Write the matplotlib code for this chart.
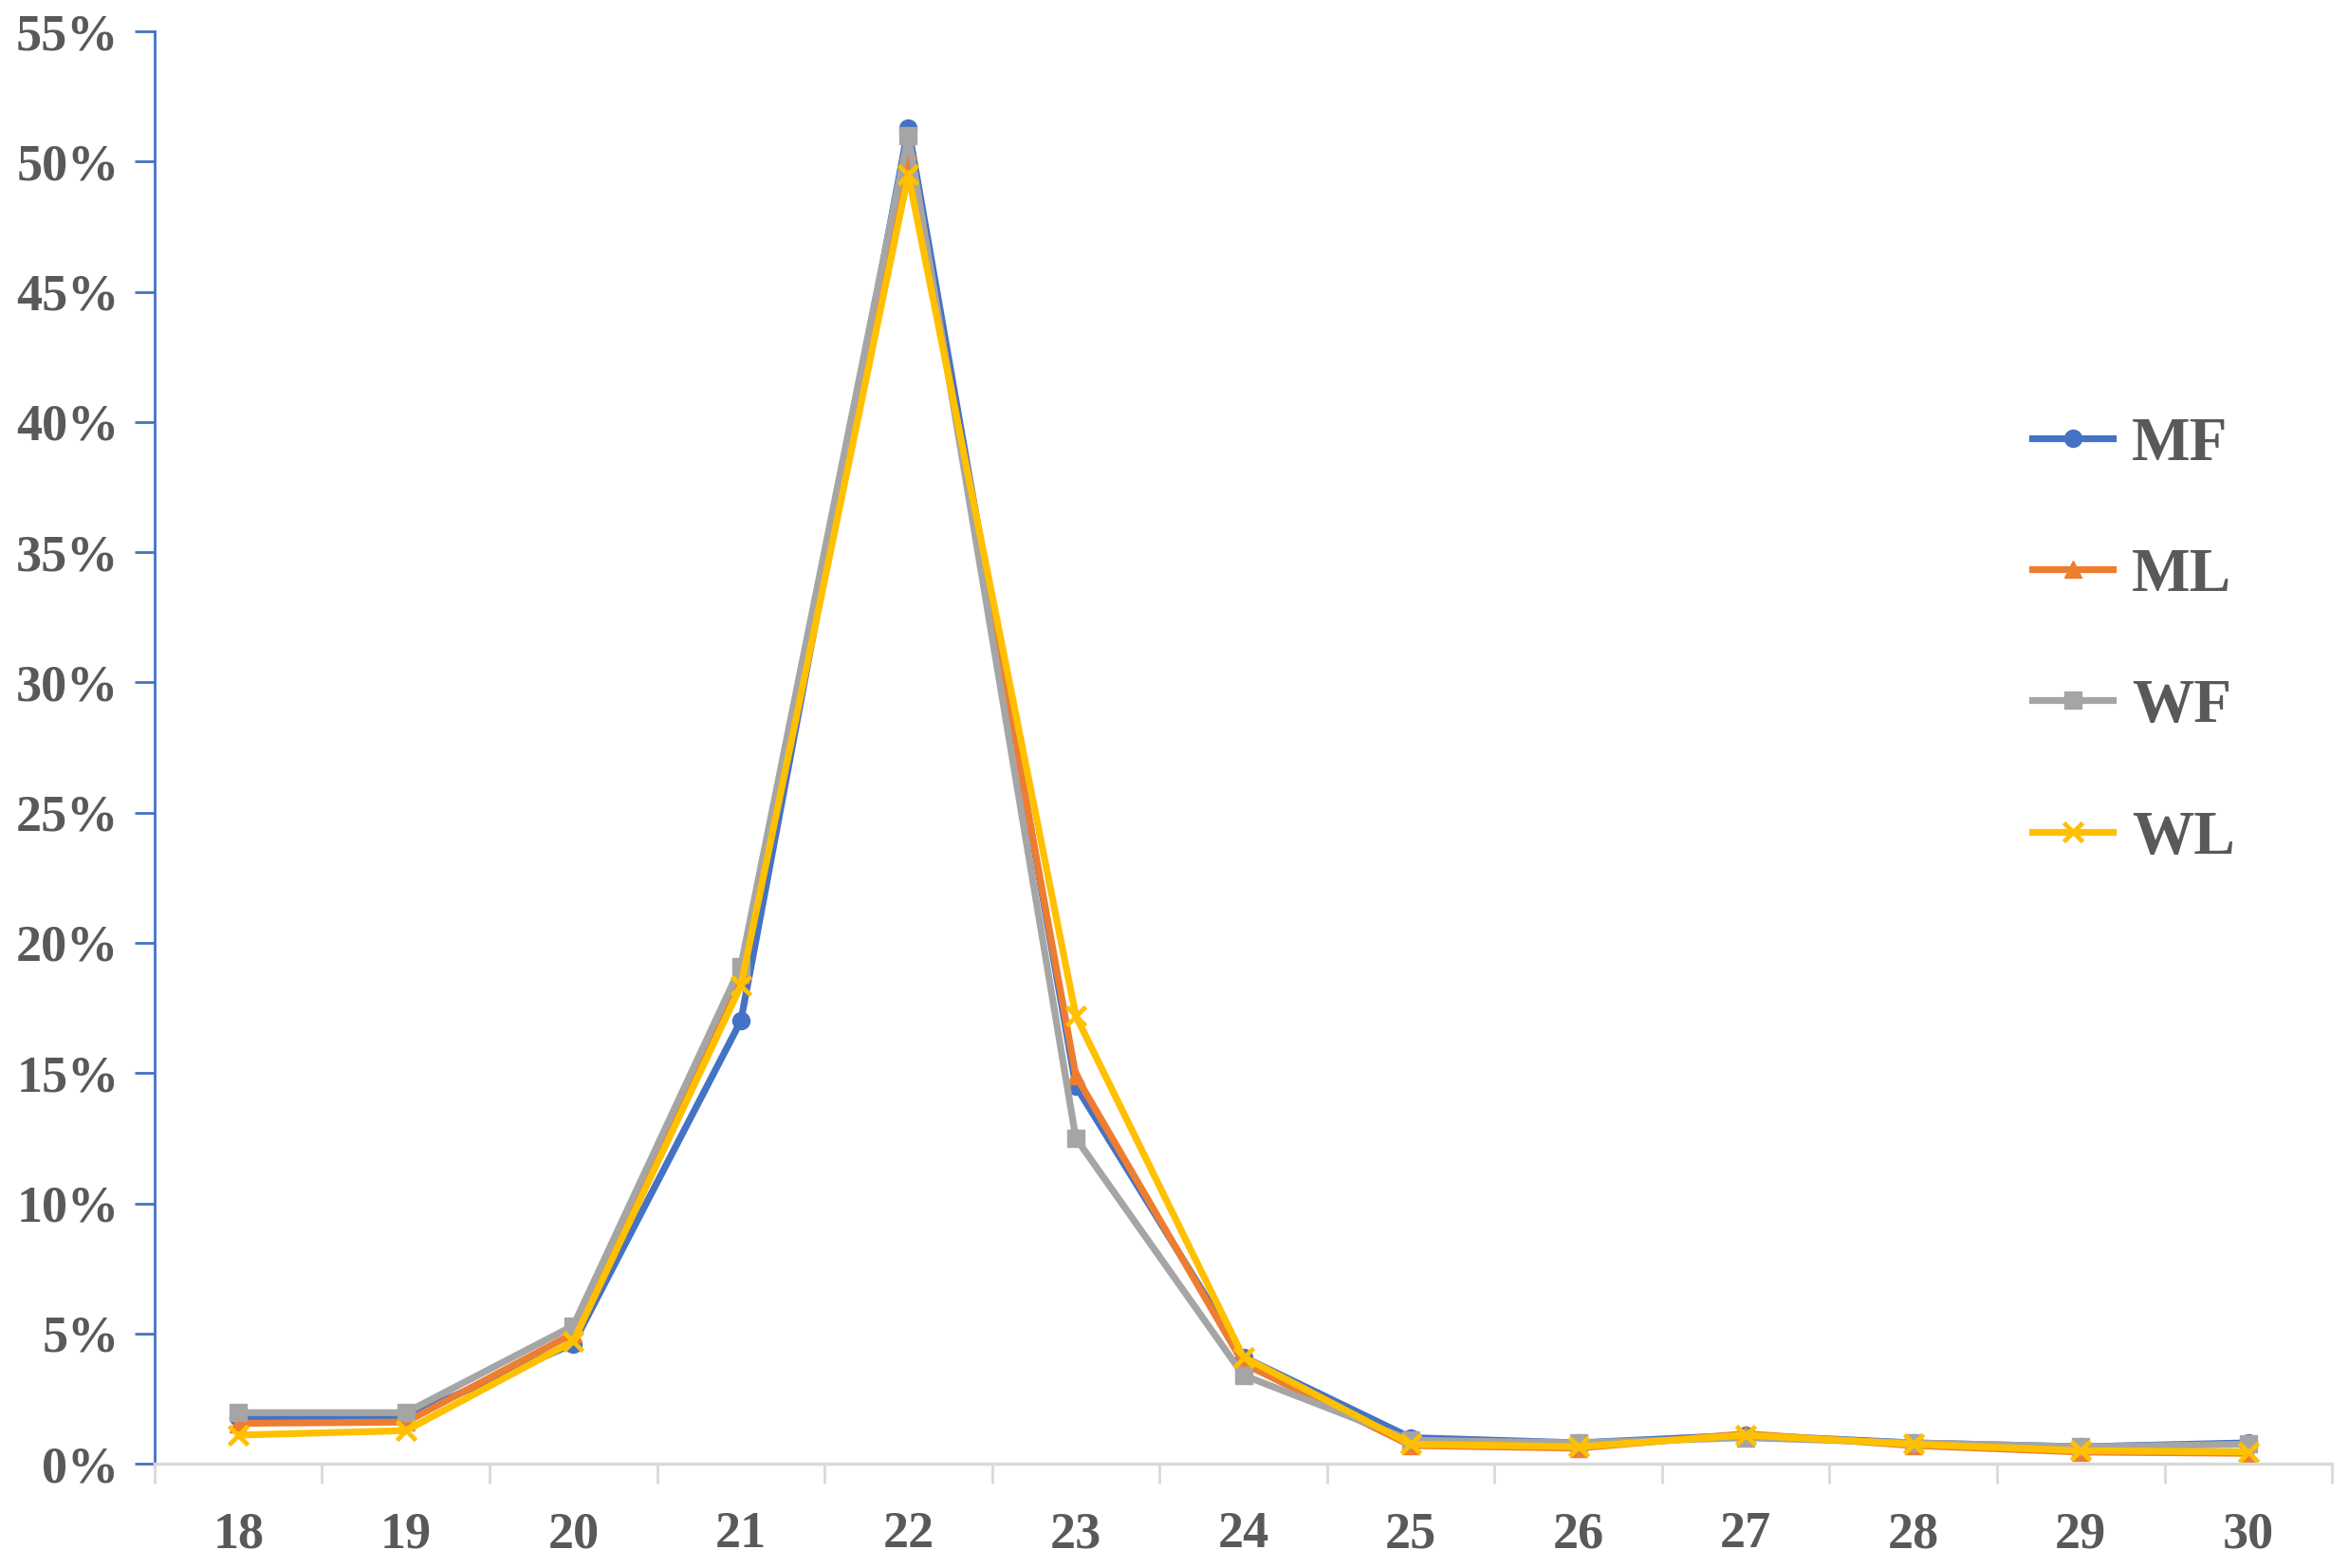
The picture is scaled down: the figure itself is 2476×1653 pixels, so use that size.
import numpy as np
import matplotlib
matplotlib.use('Agg')
import matplotlib.pyplot as plt
from matplotlib.ticker import FixedLocator, FuncFormatter

# ─────────────────────────────────────────
# DATA (percent)
# ─────────────────────────────────────────
ages = ['18', '19', '20', '21', '22', '23', '24', '25', '26', '27', '28', '29', '30']

mf = [1.8, 1.8, 4.6, 17.0, 51.3, 14.5, 4.1, 1.0, 0.8, 1.1, 0.8, 0.65, 0.8]
ml = [1.55, 1.6, 5.0, 18.8, 50.4, 14.9, 3.85, 0.7, 0.6, 1.15, 0.7, 0.45, 0.4]
wf = [1.96, 1.96, 5.3, 19.1, 51.0, 12.5, 3.4, 0.9, 0.8, 1.0, 0.8, 0.65, 0.75]
wl = [1.1, 1.27, 4.7, 18.35, 49.5, 17.2, 4.1, 0.75, 0.65, 1.1, 0.75, 0.5, 0.45]

series = [
    ('MF', mf, '#4472C4', 'o', 13),
    ('ML', ml, '#ED7D31', '^', 13),
    ('WF', wf, '#A5A5A5', 's', 13),
    ('WL', wl, '#FFC000', 'x', 14),
]

TEXT_GRAY = '#595959'
FONT = 'Liberation Serif'

# ─────────────────────────────────────────
# PLOT
# ─────────────────────────────────────────
fig = plt.figure(figsize=(24.76, 16.53), dpi=100)
ax = fig.add_axes([0.0658, 0.0665, 0.927, 0.9135])

x = np.arange(len(ages))
for name, vals, col, mk, ms in series:
    ax.plot(x, vals, color=col, linewidth=5.2, marker=mk, markersize=ms,
            markeredgewidth=3.5 if mk == 'x' else 1, markeredgecolor=col,
            markerfacecolor=col, label=name, solid_joinstyle='round')

ax.set_xlim(-0.5, len(ages) - 0.5)
ax.set_ylim(0, 55)

# y axis
ax.yaxis.set_major_locator(FixedLocator(np.arange(0, 56, 5)))
ax.yaxis.set_major_formatter(FuncFormatter(lambda v, p: f'{int(v)}%'))
ax.tick_params(axis='y', direction='out', length=15, width=2,
               color='#4472C4', pad=12, labelsize=39, labelcolor=TEXT_GRAY)

# x axis: labels at centers, ticks at boundaries
ax.set_xticks(x)
ax.set_xticklabels(ages)
ax.set_xticks(np.arange(-0.5, len(ages)), minor=True)
ax.tick_params(axis='x', which='major', length=0, pad=36,
               labelsize=39, labelcolor=TEXT_GRAY)
ax.tick_params(axis='x', which='minor', direction='out', length=15,
               width=2, color='#D9D9D9')

for lbl in ax.get_xticklabels() + ax.get_yticklabels():
    lbl.set_fontfamily(FONT)
    lbl.set_fontweight('bold')

ax.spines['top'].set_visible(False)
ax.spines['right'].set_visible(False)
ax.spines['left'].set_color('#4472C4')
ax.spines['left'].set_linewidth(2)
ax.spines['bottom'].set_color('#D9D9D9')
ax.spines['bottom'].set_linewidth(2.5)

# legend
leg = fig.legend(loc='center left', bbox_to_anchor=(0.852, 0.591),
                 frameon=False, borderpad=0, handlelength=1.3,
                 handletextpad=0.3, labelspacing=1.2,
                 prop={'family': FONT, 'weight': 'bold', 'size': 47})
for t in leg.get_texts():
    t.set_color(TEXT_GRAY)

fig.savefig('out.png', dpi=100)
plt.close(fig)
